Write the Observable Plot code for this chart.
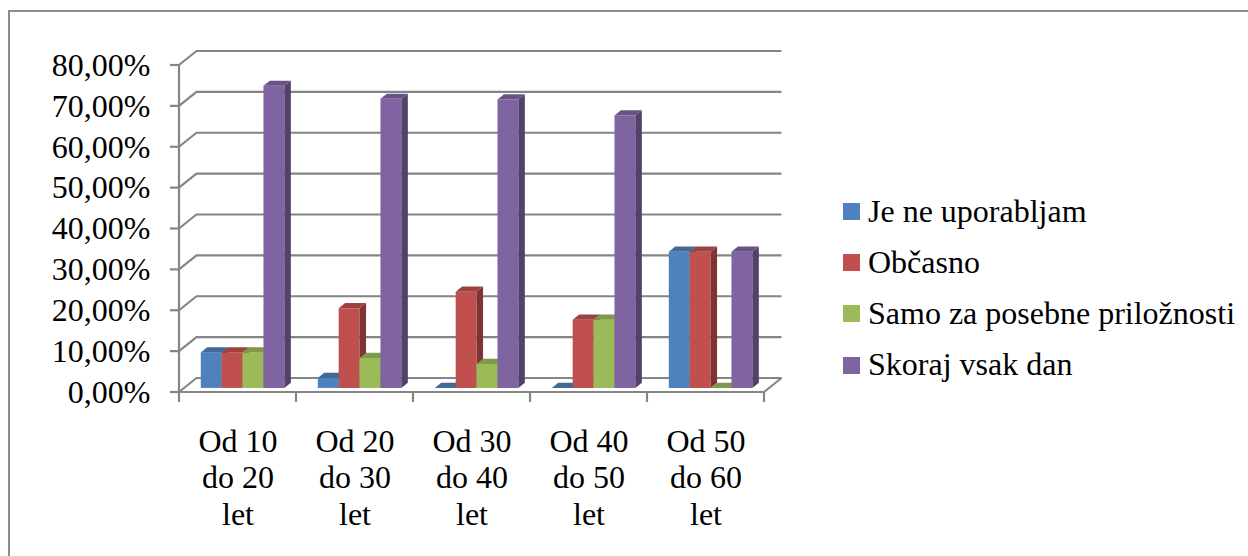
<!DOCTYPE html>
<html>
<head>
<meta charset="utf-8">
<script src="https://cdn.jsdelivr.net/npm/d3@7"></script>
<script src="https://cdn.jsdelivr.net/npm/@observablehq/plot@0.6"></script>
<style>
  html, body { margin: 0; padding: 0; background: #fff; overflow: hidden; }
  #page { position: relative; width: 1248px; height: 556px; overflow: hidden; }
  #border { position: absolute; left: 8px; top: 10px; width: 1400px; height: 700px;
            border: 2px solid #8c8c8c; box-sizing: border-box; }
  #chart { position: absolute; left: 0; top: 0; }
  #legend { position: absolute; left: 843px; top: 0; width: 405px; height: 556px; }
  .sw { position: absolute; left: 0; width: 17px; height: 17px; }
  .lab { position: absolute; left: 25px; font-size: 32px; line-height: 32px; color: #000; white-space: nowrap;
         font-family: 'Liberation Serif', 'Times New Roman', serif; }
</style>
</head>
<body>
<div id="page">
  <div id="border"></div>
  <div id="chart"></div>
  <div id="legend"></div>
</div>
<script>
// Age groups (tick labels on the category axis)
const categories = ["Od 10\ndo 20\nlet", "Od 20\ndo 30\nlet", "Od 30\ndo 40\nlet", "Od 40\ndo 50\nlet", "Od 50\ndo 60\nlet"];

// Answer options
const seriesNames = ["Je ne uporabljam", "Občasno", "Samo za posebne priložnosti", "Skoraj vsak dan"];

// Share of respondents per age group, in percent
const jeNeUporabljam = [8.70, 2.44, 0, 0, 33.33];
const obcasno        = [8.70, 19.51, 23.53, 16.67, 33.33];
const samoZaPosebne  = [8.70, 7.32, 5.88, 16.67, 0];
const skorajVsakDan  = [73.91, 70.73, 70.59, 66.67, 33.33];

const yTicks = [0, 10, 20, 30, 40, 50, 60, 70, 80];
const seriesColors = ["#4f81bd", "#c0504d", "#9bbb59", "#8064a2"];

const seriesValues = [jeNeUporabljam, obcasno, samoZaPosebne, skorajVsakDan];
const rows = categories.flatMap((category, i) =>
  seriesValues.map((values, s) => ({category, series: s, value: values[i]})));

const FONT = "'Liberation Serif', 'Times New Roman', serif";

// Slovenian number format: 80,00%
const sl = d3.formatLocale({decimal: ",", thousands: ".", grouping: [3], currency: ["", " €"]});
const fmt2 = sl.format(".2f");
const pct = (d) => fmt2(d) + "%";

// Oblique projection of the depth axis (front plane -> back wall)
const DX = 17.5, DY = -14;
const AXIS = "#858585";

function bandwidthOf(x, dims) {
  return typeof x.bandwidth === "function"
    ? x.bandwidth()
    : (dims.width - dims.marginLeft - dims.marginRight) / categories.length;
}

// Back wall gridlines, side-wall diagonals, floor and axis ticks
function walls(index, {x, y}, values, dims) {
  const g = d3.create("svg:g").attr("fill", "none").attr("stroke", AXIS).attr("stroke-width", 2.2);
  const bw = bandwidthOf(x, dims);
  const left = x(categories[0]);
  const right = x(categories[categories.length - 1]) + bw;
  const y0 = y(0);
  for (const t of yTicks) {
    const py = y(t);
    g.append("path").attr("d", `M${left},${py}L${left + DX},${py + DY}L${right + DX},${py + DY}`);
    g.append("path").attr("d", `M${left - 9},${py}H${left}`);
  }
  // value axis line
  g.append("path").attr("d", `M${left},${y(yTicks[yTicks.length - 1])}V${y0}`);
  // floor front edge and right edge
  g.append("path").attr("d", `M${left},${y0}H${right}L${right + DX},${y0 + DY}`);
  // category boundary ticks
  const bounds = categories.map((c) => x(c)).concat([right]);
  for (const bx of bounds) g.append("path").attr("d", `M${bx},${y0}V${y0 + 10}`);
  return g.node();
}

// 3D clustered columns: front face, right side face, top face
function columns(index, {x, y}, values, dims) {
  const g = d3.create("svg:g");
  const bw = bandwidthOf(x, dims);
  const barW = bw * 0.1786;
  const pad = (bw - barW * seriesNames.length) / 2;
  const d0 = 0.29, d1 = 0.37;              // depth position and thickness of the columns
  const ox = d0 * DX, oy = d0 * DY;
  const tx = d1 * DX, ty = d1 * DY;
  for (const r of rows) {
    const c = seriesColors[r.series];
    const xa = x(r.category) + pad + r.series * barW + ox;
    const xb = xa + barW;
    const yb = y(0) + oy;
    const yt = y(r.value) + oy;
    const col = d3.color(c);
    if (yb - yt > 0.01) {
      g.append("path").attr("fill", c)
        .attr("d", `M${xa},${yb}H${xb}V${yt}H${xa}Z`);
      g.append("path").attr("fill", col.darker(1.2).formatHex())
        .attr("d", `M${xb},${yb}L${xb + tx},${yb + ty}V${yt + ty}L${xb},${yt}Z`);
    }
    g.append("path").attr("fill", col.darker(0.55).formatHex())
      .attr("d", `M${xa},${yt}H${xb}L${xb + tx},${yt + ty}H${xa + tx}Z`);
  }
  return g.node();
}

const chart = Plot.plot({
  width: 1248,
  height: 556,
  marginLeft: 177,
  marginRight: 483,
  marginTop: 65,
  marginBottom: 164,
  x: {type: "band", domain: categories, padding: 0},
  y: {type: "linear", domain: [0, 80]},
  style: {fontFamily: FONT, fontSize: "32px", color: "#000", background: "transparent"},
  marks: [
    walls,
    columns,
    Plot.axisY(yTicks, {tickSize: 0, tickPadding: 27, tickFormat: pct, fontSize: 32, fontFamily: FONT, label: null}),
    Plot.axisX({tickSize: 0, tickPadding: 33, fontSize: 32, fontFamily: FONT, lineHeight: 1.15, label: null})
  ]
});
document.getElementById("chart").append(chart);

// Legend to the right of the plot
const legend = document.getElementById("legend");
seriesNames.forEach((name, i) => {
  const sw = document.createElement("div");
  sw.className = "sw";
  sw.style.top = (203 + i * 51.2) + "px";
  sw.style.background = seriesColors[i];
  const lab = document.createElement("div");
  lab.className = "lab";
  lab.style.top = (194.7 + i * 51.2) + "px";
  lab.textContent = name;
  legend.append(sw, lab);
});
</script>
</body>
</html>
